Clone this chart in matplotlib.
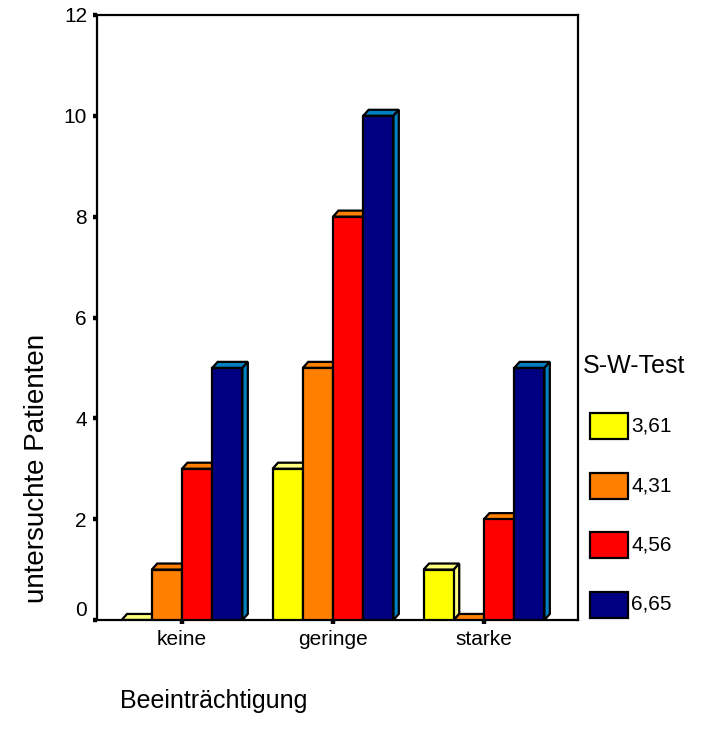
import matplotlib
matplotlib.use("Agg")
import matplotlib.pyplot as plt
import numpy as np
from matplotlib.patches import Rectangle

plt.rcParams['font.family'] = ['Liberation Sans', 'DejaVu Sans']

# data
groups = ["keine", "geringe", "starke"]
series = ["3,61", "4,31", "4,56", "6,65"]
counts = [
    [0, 3, 1],    # 3,61
    [1, 5, 0],    # 4,31
    [3, 8, 2],    # 4,56
    [5, 10, 5],   # 6,65
]
face_colors = ["#FFFF00", "#FF8000", "#FF0000", "#000080"]
top_colors = ["#FFFF80", "#FF8000", "#FF8000", "#0080C0"]
side_colors = ["#FFFF80", "#FF8000", "#FF8000", "#0080C0"]

fig = plt.figure(figsize=(7.07, 7.29), dpi=100)
ax = fig.add_axes([97/707, 1-620/729, (578-97)/707, (620-15)/729])

w = 0.2
dx, dy = 0.036, 0.12
x = np.arange(len(groups))

z = 2
for gi in range(len(groups)):
    for si in range(len(series)):
        v = counts[si][gi]
        x0 = x[gi] + (si - 1.5) * w - w/2
        x1 = x0 + w
        # top face
        ax.fill([x0, x0+dx, x1+dx, x1], [v, v+dy, v+dy, v],
                facecolor=top_colors[si], edgecolor="black", lw=1.6, zorder=z)
        # side face
        if v > 0:
            ax.fill([x1, x1+dx, x1+dx, x1], [0, dy, v+dy, v],
                    facecolor=side_colors[si], edgecolor="black", lw=1.6, zorder=z)
        z += 1
        if v > 0:
            ax.bar(x0, v, width=w, align="edge", color=face_colors[si],
                   edgecolor="black", lw=1.6, zorder=z)
        z += 1

ax.set_xlim((97-182)/151, (578-182)/151)
ax.set_ylim(0, 12)
ax.set_yticks(range(0, 13, 2))
ax.set_xticks(x)
ax.set_xticklabels(groups)
for sp in ax.spines.values():
    sp.set_linewidth(1.6)
ax.tick_params(axis="both", direction="out", length=3.2, width=3.2,
               labelsize=15, pad=4)
ax.get_yticklabels()[0].set_verticalalignment("bottom")

fig.text(37/707, 1-468/729, "untersuchte Patienten", rotation=90,
         ha="center", va="center", fontsize=20)
fig.text(120/707, 1-708/729, "Beeinträchtigung", ha="left", va="baseline",
         fontsize=18)

# legend
fig.text(583/707, 1-366/729, "S-W-Test", ha="left", va="center", fontsize=18)
for si, lab in enumerate(series):
    yc = 426 + si * 59.5
    fig.add_artist(Rectangle((590/707, 1-(yc+13)/729), 38/707, 26/729,
                             transform=fig.transFigure, facecolor=face_colors[si],
                             edgecolor="black", lw=1.6))
    fig.text(631/707, 1-yc/729, lab, ha="left", va="center", fontsize=15)

fig.savefig("out.png", dpi=100)
